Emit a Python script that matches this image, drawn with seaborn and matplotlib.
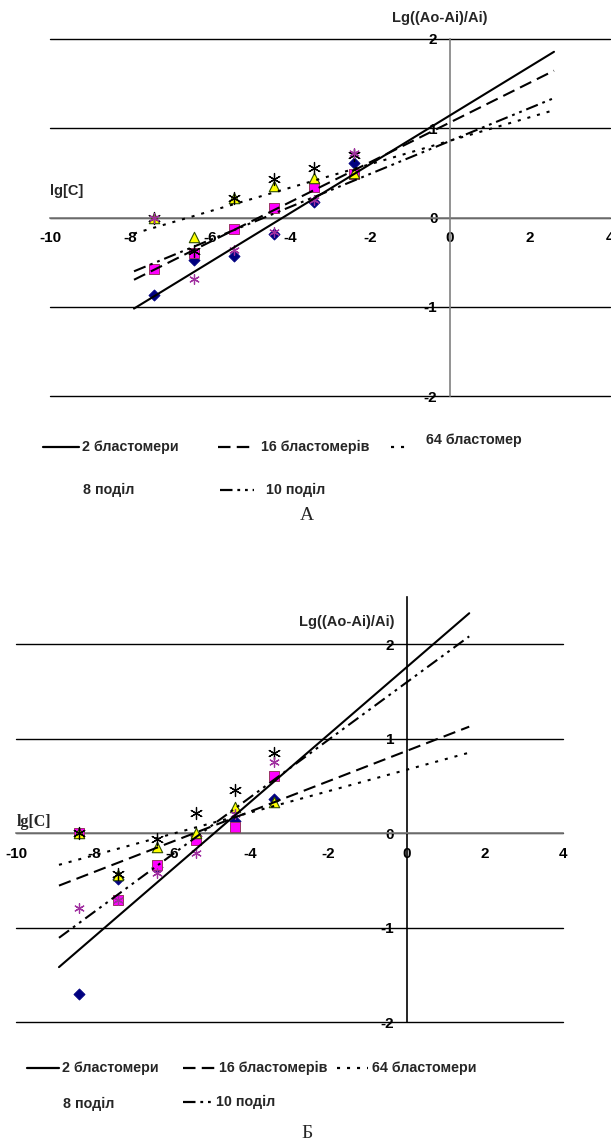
import numpy as np
import matplotlib
matplotlib.use("Agg")
import matplotlib.pyplot as plt
from matplotlib.lines import Line2D
import seaborn as sns

# log10 concentration and Lg((Ao-Ai)/Ai) values, panel A
conc_a = [-7.4, -6.4, -5.4, -4.4, -3.4, -2.4]
blast2_a = [-0.87, -0.48, -0.43, -0.19, 0.17, 0.61]
blast16_a = [-0.58, -0.40, -0.13, 0.11, 0.34, 0.49]
blast64_a = [0.00, -0.22, 0.22, 0.35, 0.44, 0.50]
div8_a = [0.00, -0.37, 0.22, 0.43, 0.56, 0.70]
div10_a = [0.00, -0.69, -0.36, -0.16, 0.20, 0.72]

# panel Б
conc_b = [-8.4, -7.4, -6.4, -5.4, -4.4, -3.4]
blast2_b = [-1.70, -0.49, -0.36, -0.03, 0.13, 0.36]
blast16_b = [0.00, -0.71, -0.34, -0.07, 0.07, 0.60]
blast64_b = [0.00, -0.44, -0.15, 0.00, 0.28, 0.33]
div8_b = [0.00, -0.43, -0.06, 0.21, 0.46, 0.85]
div10_b = [-0.79, -0.71, -0.42, -0.21, 0.20, 0.75]

series_names = ["2 бластомери", "16 бластомерів", "64 бластомери", "8 поділ", "10 поділ"]
x_ticks = [-10, -8, -6, -4, -2, 0, 2, 4]
y_ticks = [-2, -1, 0, 1, 2]
y_title = "Lg((Ao-Ai)/Ai)"
x_title = "lg[C]"

sns.set_theme(style="white")
plt.rcParams["font.family"] = ["Liberation Sans", "DejaVu Sans"]
plt.rcParams["font.weight"] = "bold"
plt.rcParams["lines.scale_dashes"] = False

W, H = 611, 1146
fig = plt.figure(figsize=(W / 100, H / 100), dpi=100)


def fx(x):
    return x / W


def fy(y):
    return 1 - y / H


# marker look for each series (same order as series_names)
marker_kw = [
    dict(marker="D", s=32, color="#000080", edgecolor="#000080", linewidth=0.6),
    dict(marker="s", s=44, color="#FF00FF", edgecolor="#993366", linewidth=0.7),
    dict(marker="^", s=56, color="#FFFF00", edgecolor="#2F4F00", linewidth=0.8),
    dict(marker=(6, 2, 0), s=75, color="black", linewidth=0.9),
    dict(marker=(6, 2, 0), s=48, color="#A030A0", linewidth=0.9),
]

# trend line dash patterns (None = no trend line)
line_styles = [
    "-",
    (0, (9, 4.5)),
    (0, (2.2, 5.0)),
    None,
    (0, (9, 3.5, 2, 3.5, 2, 3.5)),
]


def draw_panel(ax, conc, values, ylim, yaxis_color):
    conc = np.asarray(conc)
    for vals, mk in zip(values, marker_kw):
        sns.scatterplot(x=conc, y=vals, ax=ax, zorder=3, legend=False, **mk)
    for vals, ls in zip(values, line_styles):
        if ls is None:
            continue
        k, b = np.polyfit(conc, vals, 1)
        xs = np.array([conc.min() - 0.5, conc.max() + 5.0])
        sns.lineplot(x=xs, y=k * xs + b, ax=ax, color="black", linewidth=1.5,
                     linestyle=ls, zorder=4, legend=False)

    ax.set_xlim(-10, 4)
    ax.set_ylim(*ylim)
    ax.set_xticks(x_ticks)
    ax.set_yticks(y_ticks)
    ax.set_xticklabels([str(t) for t in x_ticks], fontsize=10, fontweight="bold")
    ax.set_yticklabels([str(t) for t in y_ticks], fontsize=10, fontweight="bold")
    ax.set_xlabel("")
    ax.set_ylabel("")
    for side in ("top", "right"):
        ax.spines[side].set_visible(False)
    ax.spines["left"].set_position(("data", 0))
    ax.spines["bottom"].set_position(("data", 0))
    ax.spines["bottom"].set_color("#808080")
    ax.spines["bottom"].set_linewidth(1.2)
    ax.spines["left"].set_color(yaxis_color)
    ax.spines["left"].set_linewidth(1.2)
    ax.tick_params(axis="x", direction="in", length=4, width=1, color="#808080",
                   pad=10, labelcolor="black")
    ax.tick_params(axis="y", direction="out", length=4, width=1, color=yaxis_color,
                   pad=5, labelcolor="black")
    ax.grid(False)
    ax.yaxis.grid(True, color="black", linewidth=1.0)
    for gl in ax.get_ygridlines():
        gl.set_clip_on(False)
    ax.set_facecolor("white")


# panel A
ax_a = fig.add_axes([fx(50), fy(396), (610 - 50) / W, (396 - 39) / H])
draw_panel(ax_a, conc_a, [blast2_a, blast16_a, blast64_a, div8_a, div10_a],
           (-2, 2), "#808080")

# panel Б
ax_b = fig.add_axes([fx(16), fy(1022), (563 - 16) / W, (1022 - 597) / H])
draw_panel(ax_b, conc_b, [blast2_b, blast16_b, blast64_b, div8_b, div10_b],
           (-2, 2.5), "black")

# axis titles
fig.text(fx(440), fy(18), y_title, ha="center", va="center", fontsize=10.5,
         fontweight="bold")
fig.text(fx(50), fy(191), x_title, ha="left", va="center", fontsize=10.5,
         fontweight="bold")
fig.text(fx(347), fy(622), y_title, ha="center", va="center", fontsize=10.5,
         fontweight="bold")
fig.text(fx(17), fy(822), x_title, ha="left", va="center", fontsize=11.5,
         fontweight="bold", family="Liberation Serif")


# legends below each panel
def legend_entry(x0, x1, y, ls, label, tx, ty=None):
    if ls is not None:
        fig.add_artist(Line2D([fx(x0), fx(x1)], [fy(y), fy(y)], color="black",
                              linewidth=1.6, linestyle=ls,
                              transform=fig.transFigure))
    fig.text(fx(tx), fy(y if ty is None else ty), label, ha="left", va="center",
             fontsize=10.3, fontweight="bold")


legend_entry(43, 79, 447, line_styles[0], series_names[0], 82)
legend_entry(218, 254, 447, line_styles[1], series_names[1], 261)
legend_entry(391, 406, 447, line_styles[2], "64 бластомер", 426, ty=440)
legend_entry(0, 0, 490, None, series_names[3], 83)
legend_entry(220, 254, 490, line_styles[4], series_names[4], 266)

legend_entry(27, 59, 1068, line_styles[0], series_names[0], 62)
legend_entry(183, 216, 1068, line_styles[1], series_names[1], 219)
legend_entry(337, 368, 1068, line_styles[2], series_names[2], 372)
legend_entry(0, 0, 1104, None, series_names[3], 63)
legend_entry(183, 211, 1102, line_styles[4], series_names[4], 216)

# panel letters
fig.text(fx(307), fy(515), "А", ha="center", va="center", fontsize=14,
         fontweight="normal", family="Liberation Serif")
fig.text(fx(307), fy(1133), "Б", ha="center", va="center", fontsize=14,
         fontweight="normal", family="Liberation Serif")

fig.savefig("out.png", dpi=100, facecolor="white")
